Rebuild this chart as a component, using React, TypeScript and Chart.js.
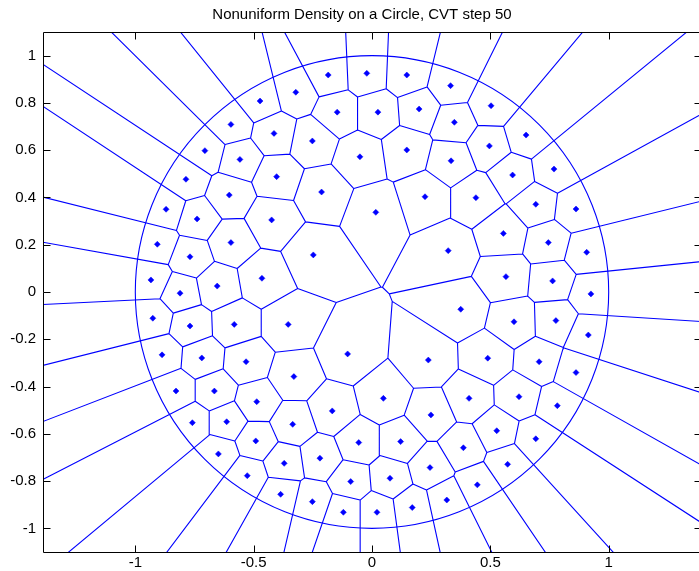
import React, { useEffect, useRef } from 'react';
import { Chart, registerables } from 'chart.js';

Chart.register(...registerables);

const TITLE = 'Nonuniform Density on a Circle, CVT step 50';

// Generator (cell centre) coordinates
const GEN_X = [
  -0.185, -0.022, -0.322, -0.473, -0.147, 0.025, -0.596, -0.414, -0.252, -0.706,
  -0.558, -0.051, -0.786, -0.403, -0.603, -0.213, -0.870, 0.016, -0.739, -0.424,
  0.147, 0.332, 0.199, 0.503, 0.348, 0.147, 0.496, 0.651, 0.334, 0.769,
  0.594, 0.224, 0.439, 0.692, 0.862, -0.907, -0.596, -0.769, -0.248, -0.934,
  -0.465, -0.654, -0.811, -0.926, -0.582, -0.769, -0.354, -0.887, -0.719, -0.532,
  -0.103, -0.330, 0.555, 0.745, 0.907, 0.322, 0.566, 0.763, 0.925, 0.375,
  0.600, 0.777, 0.914, 0.238, 0.489, 0.706, 0.862, -0.828, -0.666, -0.487,
  -0.168, -0.759, -0.614, -0.335, -0.491, -0.056, -0.649, -0.220, -0.371, -0.527,
  -0.090, -0.386, -0.252, -0.121, 0.021, 0.048, 0.249, 0.410, 0.621, 0.783,
  0.121, 0.386, 0.527, 0.692, 0.245, 0.573, 0.076, 0.445, 0.170, 0.316,
];
const GEN_Y = [
  0.918, 0.925, 0.845, 0.808, 0.761, 0.761, 0.709, 0.671, 0.639, 0.598,
  0.561, 0.572, 0.477, 0.488, 0.410, 0.423, 0.350, 0.337, 0.309, 0.305,
  0.918, 0.873, 0.774, 0.788, 0.718, 0.601, 0.618, 0.664, 0.555, 0.520,
  0.495, 0.403, 0.399, 0.371, 0.351, 0.202, 0.209, 0.149, 0.157, 0.051,
  0.058, 0.025, -0.005, -0.111, -0.137, -0.144, -0.137, -0.266, -0.279, -0.295,
  -0.262, -0.358, 0.248, 0.209, 0.168, 0.175, 0.065, 0.047, -0.008, -0.073,
  -0.126, -0.121, -0.182, -0.288, -0.280, -0.295, -0.341, -0.419, -0.419, -0.464,
  -0.503, -0.553, -0.549, -0.560, -0.630, -0.637, -0.685, -0.703, -0.725, -0.777,
  -0.802, -0.856, -0.887, -0.932, -0.932, -0.450, -0.520, -0.450, -0.443, -0.481,
  -0.633, -0.659, -0.587, -0.621, -0.743, -0.729, -0.788, -0.816, -0.912, -0.880,
];

const X_TICKS = [-1, -0.5, 0, 0.5, 1];
const X_TICK_LABELS = ['-1', '-0.5', '0', '0.5', '1'];
const Y_TICKS = [-1, -0.8, -0.6, -0.4, -0.2, 0, 0.2, 0.4, 0.6, 0.8, 1];
const Y_TICK_LABELS = ['-1', '-0.8', '-0.6', '-0.4', '-0.2', '0', '0.2', '0.4', '0.6', '0.8', '1'];
const X_LIMITS = [-1.39, 1.39];
const Y_LIMITS = [-1.1, 1.1];
const CIRCLE_RADIUS = 1;

const BLUE = 'rgb(0,0,255)';
const FONT = { family: '"Liberation Sans", Arial, Helvetica, sans-serif', size: 15, weight: 'normal' as const };

type V = { x: number; y: number; e: number };

// Voronoi edges of the generators: each cell is the bounding box clipped by bisector half-planes
function voronoiEdges(xs: number[], ys: number[]) {
  const B = 20;
  const n = xs.length;
  const pts: { x: number | null; y: number | null }[] = [];
  for (let i = 0; i < n; i++) {
    let poly: V[] = [
      { x: -B, y: -B, e: -1 },
      { x: B, y: -B, e: -1 },
      { x: B, y: B, e: -1 },
      { x: -B, y: B, e: -1 },
    ];
    for (let j = 0; j < n; j++) {
      if (j === i || poly.length === 0) continue;
      const dx = xs[j] - xs[i];
      const dy = ys[j] - ys[i];
      const mx = (xs[i] + xs[j]) / 2;
      const my = (ys[i] + ys[j]) / 2;
      const f = (p: V) => (p.x - mx) * dx + (p.y - my) * dy;
      const out: V[] = [];
      for (let k = 0; k < poly.length; k++) {
        const a = poly[k];
        const b = poly[(k + 1) % poly.length];
        const fa = f(a);
        const fb = f(b);
        if (fa <= 0) {
          out.push(a);
          if (fb > 0) {
            const t = fa / (fa - fb);
            out.push({ x: a.x + t * (b.x - a.x), y: a.y + t * (b.y - a.y), e: j });
          }
        } else if (fb <= 0) {
          const t = fa / (fa - fb);
          out.push({ x: a.x + t * (b.x - a.x), y: a.y + t * (b.y - a.y), e: a.e });
        }
      }
      poly = out;
    }
    for (let k = 0; k < poly.length; k++) {
      const a = poly[k];
      const b = poly[(k + 1) % poly.length];
      if (a.e > i) {
        pts.push({ x: a.x, y: a.y }, { x: b.x, y: b.y }, { x: null, y: null });
      }
    }
  }
  return pts;
}

const matlabAxes = {
  id: 'matlabAxes',
  beforeDatasetsDraw(chart: any) {
    const { ctx, chartArea, scales } = chart;
    const xs = scales.x;
    const ys = scales.y;
    const cx = xs.getPixelForValue(0);
    const cy = ys.getPixelForValue(0);
    const rx = xs.getPixelForValue(CIRCLE_RADIUS) - cx;
    const ry = cy - ys.getPixelForValue(CIRCLE_RADIUS);
    ctx.save();
    ctx.beginPath();
    ctx.rect(chartArea.left, chartArea.top, chartArea.right - chartArea.left, chartArea.bottom - chartArea.top);
    ctx.clip();
    ctx.beginPath();
    ctx.ellipse(cx, cy, rx, ry, 0, 0, Math.PI * 2);
    ctx.strokeStyle = BLUE;
    ctx.lineWidth = 1.1;
    ctx.stroke();
    ctx.restore();
  },
  afterDatasetsDraw(chart: any) {
    const { ctx, chartArea, scales } = chart;
    const L = Math.floor(chartArea.left) + 0.5;
    const T = Math.floor(chartArea.top) + 0.5;
    const R = Math.floor(chartArea.right) + 0.5;
    const Bt = Math.floor(chartArea.bottom) + 0.5;
    const TL = 7;
    ctx.save();
    ctx.strokeStyle = '#000';
    ctx.lineWidth = 1;
    ctx.beginPath();
    ctx.rect(L, T, R - L, Bt - T);
    for (const v of X_TICKS) {
      const px = Math.round(scales.x.getPixelForValue(v)) + 0.5;
      ctx.moveTo(px, Bt);
      ctx.lineTo(px, Bt - TL);
      ctx.moveTo(px, T);
      ctx.lineTo(px, T + TL);
    }
    for (const v of Y_TICKS) {
      const py = Math.round(scales.y.getPixelForValue(v)) + 0.5;
      ctx.moveTo(L, py);
      ctx.lineTo(L + TL, py);
      ctx.moveTo(R, py);
      ctx.lineTo(R - TL, py);
    }
    ctx.stroke();
    ctx.restore();
  },
};

function labelFor(ticks: number[], labels: string[], v: number) {
  const i = ticks.findIndex((t) => Math.abs(t - v) < 1e-9);
  return i >= 0 ? labels[i] : '';
}

export default function App() {
  const canvasRef = useRef<HTMLCanvasElement | null>(null);

  useEffect(() => {
    if (!canvasRef.current) return;
    const edgePts = voronoiEdges(GEN_X, GEN_Y);
    const genPts = GEN_X.map((x, i) => ({ x, y: GEN_Y[i] }));
    const chart = new Chart(canvasRef.current, {
      type: 'scatter',
      data: {
        datasets: [
          {
            label: 'Voronoi edges',
            data: edgePts as any,
            showLine: true,
            spanGaps: false,
            borderColor: BLUE,
            borderWidth: 1.1,
            pointRadius: 0,
            pointHoverRadius: 0,
            tension: 0,
            fill: false,
          },
          {
            label: 'Generators',
            data: genPts,
            showLine: false,
            pointStyle: 'rectRot',
            pointRadius: 3,
            pointHoverRadius: 3,
            backgroundColor: BLUE,
            borderColor: BLUE,
            borderWidth: 0.5,
          },
        ],
      },
      options: {
        animation: false,
        responsive: false,
        events: [],
        layout: { padding: 0 },
        plugins: {
          legend: { display: false },
          tooltip: { enabled: false },
          title: {
            display: true,
            text: TITLE,
            color: '#000',
            font: FONT,
            padding: { top: 6, bottom: 8 },
          },
        },
        scales: {
          x: {
            type: 'linear',
            position: 'bottom',
            min: X_LIMITS[0],
            max: X_LIMITS[1],
            grid: { display: false, drawTicks: false },
            border: { display: false },
            ticks: {
              color: '#000',
              font: FONT,
              padding: 2,
              autoSkip: false,
              maxRotation: 0,
              callback: (v: any) => labelFor(X_TICKS, X_TICK_LABELS, Number(v)),
            },
            afterBuildTicks: (s: any) => {
              s.ticks = X_TICKS.map((value) => ({ value }));
            },
            afterFit: (s: any) => {
              s.height = 19;
            },
          },
          y: {
            type: 'linear',
            position: 'left',
            min: Y_LIMITS[0],
            max: Y_LIMITS[1],
            grid: { display: false, drawTicks: false },
            border: { display: false },
            ticks: {
              color: '#000',
              font: FONT,
              padding: 7,
              autoSkip: false,
              callback: (v: any) => labelFor(Y_TICKS, Y_TICK_LABELS, Number(v)),
            },
            afterBuildTicks: (s: any) => {
              s.ticks = Y_TICKS.map((value) => ({ value }));
            },
            afterFit: (s: any) => {
              s.width = 43;
            },
          },
          y2: {
            type: 'linear',
            position: 'right',
            display: true,
            grid: { display: false, drawTicks: false },
            border: { display: false },
            ticks: { display: false },
            afterFit: (s: any) => {
              s.width = 23;
            },
          },
        },
      },
      plugins: [matlabAxes],
    });
    return () => chart.destroy();
  }, []);

  return (
    <div style={{ position: 'absolute', left: 0, top: 0, width: 699, height: 571, overflow: 'hidden', background: '#fff' }}>
      <canvas ref={canvasRef} width={724} height={571} style={{ display: 'block' }} />
    </div>
  );
}
